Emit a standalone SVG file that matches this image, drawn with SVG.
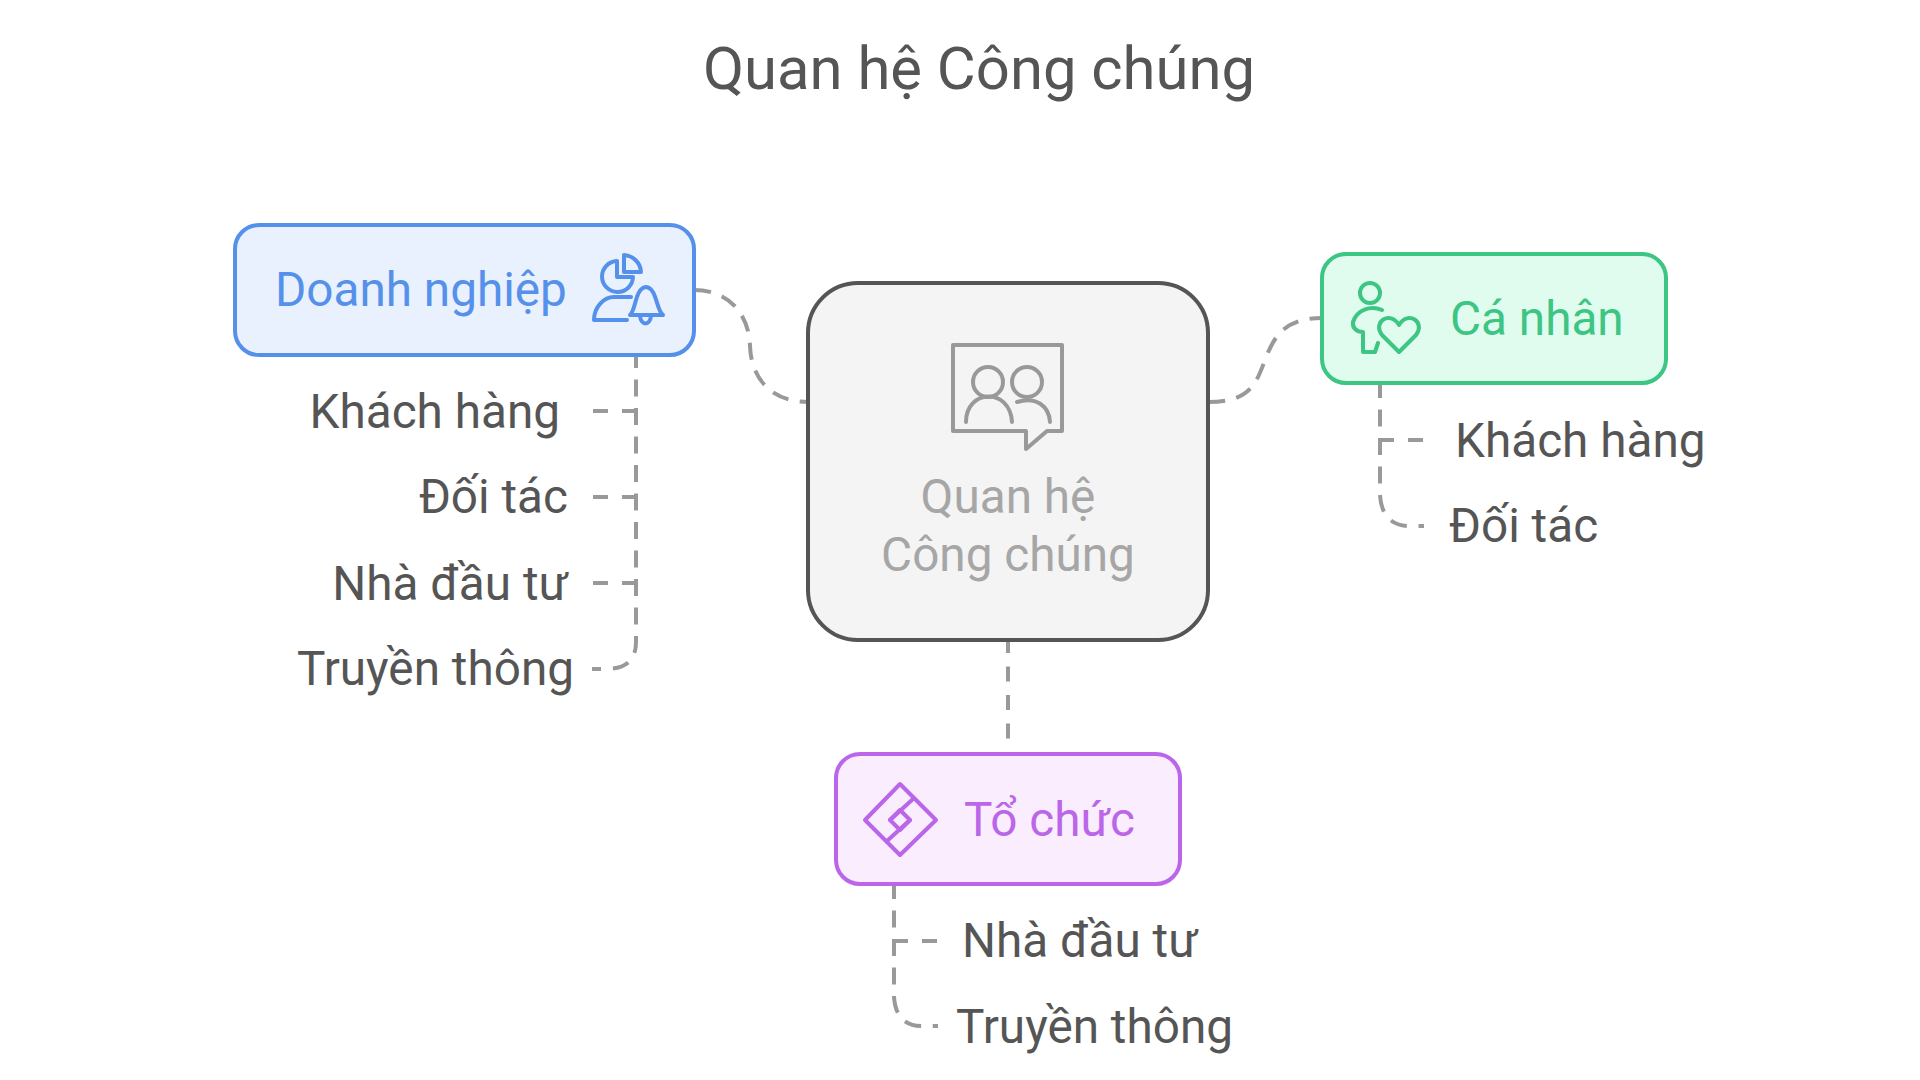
<svg xmlns="http://www.w3.org/2000/svg" width="1920" height="1080" viewBox="0 0 1920 1080">
<style>
text{font-family:Roboto,"Liberation Sans",sans-serif}
.lbl{font-size:47.7px;fill:#555}
.t{font-size:47.7px}
.conn{fill:none;stroke:#999;stroke-width:4}
.d{stroke-dasharray:17 11.5}
.s{stroke-dasharray:15 14 16 100}
.ic{fill:none;stroke-width:4;stroke-linecap:round;stroke-linejoin:round}
</style>
<rect width="1920" height="1080" fill="#fff"/>
<text id="title" x="979" y="89" text-anchor="middle" font-size="59.8" fill="#555">Quan hệ Công chúng</text>
<g id="connectors" class="conn">
<path class="d" d="M694 290C730 290 749 315 750 346C751 377 770 402 808 402"/>
<path class="d" d="M1208 402C1250 402 1256 384 1265 360C1274 336 1285 318 1322 318"/>
<path d="M1008 638V742" stroke-dasharray="15 13.5"/>
<path class="d" d="M636 351V642Q636 669 606 669H592"/>
<path class="s" d="M593 411H638"/>
<path class="s" d="M593 497H638"/>
<path class="s" d="M593 583H638"/>
<path class="d" d="M1380 381V495Q1382 526 1410 526H1424"/>
<path class="s" d="M1423 440H1378"/>
<path class="d" d="M894 882V997Q896 1026 922 1026H938"/>
<path class="s" d="M937 941H892"/>
</g>
<g id="node-center">
<rect x="808" y="283" width="400" height="357" rx="50" fill="#f4f4f4" stroke="#555" stroke-width="4"/>
<g class="ic" stroke="#999"><path d="M953 345H1062V431H1047L1026 449V431H953Z"/>
<circle cx="988" cy="382" r="15"/><circle cx="1027" cy="382" r="15"/>
<path d="M966 422C966 389 1010 387 1012 422M1017 402C1036 396 1049 406 1050 422"/></g>
<text x="1008" y="513" text-anchor="middle" class="t" fill="#a6a6a6">Quan hệ</text>
<text x="1008" y="571" text-anchor="middle" class="t" fill="#a6a6a6">Công chúng</text>
</g>
<g id="node-doanh-nghiep">
<rect x="235" y="225" width="459" height="130" rx="24" fill="#e9f1fe" stroke="#5590ea" stroke-width="4"/>
<text x="275" y="306" class="t" fill="#5590ea">Doanh nghiệp</text>
<g class="ic" stroke="#5590ea"><path d="M617 261A15.500 15.500 0 1 0 633 277H617Z"/><path d="M624 255A18 18 0 0 1 641 272H624Z"/>
<path d="M627 320H594C594 307 604 297 614 297H631"/>
<path d="M630 315C636 310 635 288 646 287C657 288 656 310 663 315ZM640 316C641 326 650 326 651 316"/></g>
</g>
<g id="node-ca-nhan">
<rect x="1322" y="254" width="344" height="129" rx="24" fill="#e0fcee" stroke="#3cc583" stroke-width="4"/>
<text x="1450" y="335" class="t" fill="#3cc583">Cá nhân</text>
<g class="ic" stroke="#3cc583"><circle cx="1370" cy="293" r="10"/>
<path d="M1382 310C1370 305 1357 310 1353 322C1352 328 1357 332 1363 332V352H1375L1378 343"/>
<path d="M1399 352L1382 335C1372 322 1390 310 1399 325C1408 310 1426 322 1416 335Z"/></g>
</g>
<g id="node-to-chuc">
<rect x="836" y="754" width="344" height="130" rx="24" fill="#f9edfe" stroke="#bb66e8" stroke-width="4"/>
<text x="964" y="836" class="t" fill="#bb66e8">Tổ chức</text>
<g class="ic" stroke="#bb66e8"><path d="M900 784L936 820L900 855L865 820Z"/>
<path d="M913 799L890 820M887 841L910 820"/><path d="M900 810L910 820L900 830L890 820Z"/></g>
</g>
<g id="labels" class="lbl">
<text x="560" y="428" text-anchor="end">Khách hàng</text>
<text x="568" y="513" text-anchor="end">Đối tác</text>
<text x="568" y="600" text-anchor="end">Nhà đầu tư</text>
<text x="574" y="685" text-anchor="end">Truyền thông</text>
<text x="1455" y="457">Khách hàng</text>
<text x="1449" y="542">Đối tác</text>
<text x="962" y="957">Nhà đầu tư</text>
<text x="956" y="1043">Truyền thông</text>
</g>
</svg>
